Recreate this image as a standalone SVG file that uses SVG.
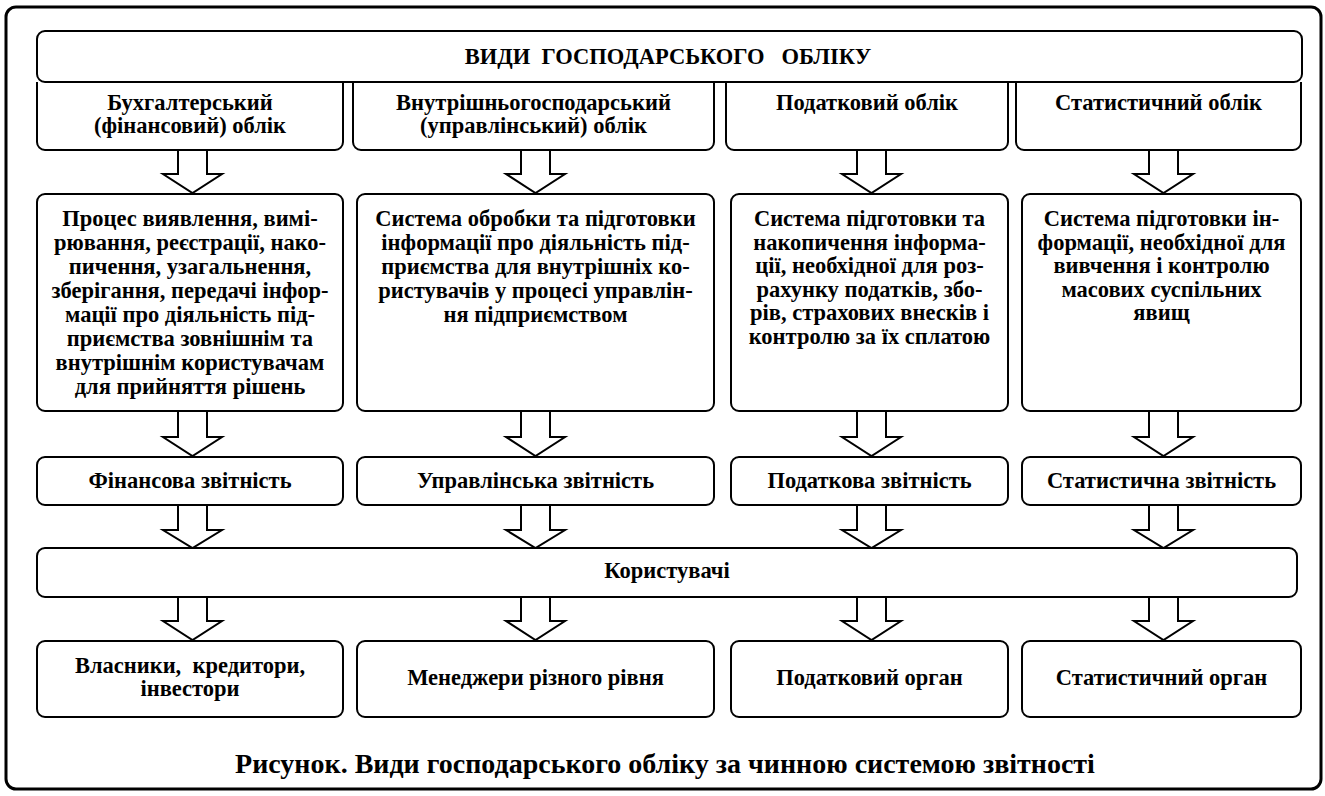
<svg xmlns="http://www.w3.org/2000/svg" width="1325" height="796" viewBox="0 0 1325 796">
<style>
text{font-family:"Liberation Serif","Times New Roman",serif;font-weight:bold;fill:#000;text-anchor:middle}
.t{font-size:22.5px}
.m{font-size:22.5px}
.cap{font-size:28px}
.box{fill:#fff;stroke:#000;stroke-width:2}
.arr{fill:#fff;stroke:#000;stroke-width:2;stroke-linejoin:miter}
</style>
<rect x="0" y="0" width="1325" height="796" fill="#fff"/>
<rect id="frame" x="6" y="7" width="1315" height="782" rx="10" fill="#fff" stroke="#000" stroke-width="3"/>

<g id="connectors">
  <polyline class="arr" points="178,150 178,174 163,174 192.5,193 222,174 207,174 207,150"/>
  <polyline class="arr" points="521,150 521,174 506,174 535.5,193 565,174 550,174 550,150"/>
  <polyline class="arr" points="857,150 857,174 842,174 871.5,193 901,174 886,174 886,150"/>
  <polyline class="arr" points="1149,150 1149,174 1134,174 1163.5,193 1193,174 1178,174 1178,150"/>

  <polyline class="arr" points="178,411 178,437 163,437 192.5,456 222,437 207,437 207,411"/>
  <polyline class="arr" points="521,411 521,437 506,437 535.5,456 565,437 550,437 550,411"/>
  <polyline class="arr" points="857,411 857,437 842,437 871.5,456 901,437 886,437 886,411"/>
  <polyline class="arr" points="1149,411 1149,437 1134,437 1163.5,456 1193,437 1178,437 1178,411"/>

  <polyline class="arr" points="178,505 178,530 163,530 192.5,548 222,530 207,530 207,505"/>
  <polyline class="arr" points="521,505 521,530 506,530 535.5,548 565,530 550,530 550,505"/>
  <polyline class="arr" points="857,505 857,530 842,530 871.5,548 901,530 886,530 886,505"/>
  <polyline class="arr" points="1149,505 1149,530 1134,530 1163.5,548 1193,530 1178,530 1178,505"/>

  <polyline class="arr" points="178,597 178,621 163,621 192.5,640 222,621 207,621 207,597"/>
  <polyline class="arr" points="521,597 521,621 506,621 535.5,640 565,621 550,621 550,597"/>
  <polyline class="arr" points="857,597 857,621 842,621 871.5,640 901,621 886,621 886,597"/>
  <polyline class="arr" points="1149,597 1149,621 1134,621 1163.5,640 1193,621 1178,621 1178,597"/>
</g>

<g id="h1"><path class="box" d="M37,82 V142 A8,8 0 0 0 45,150 H335 A8,8 0 0 0 343,142 V82"/>
<text class="t" x="190" y="110">Бухгалтерський</text><text class="t" x="190" y="133">(фінансовий) облік</text></g>
<g id="h2"><path class="box" d="M353,82 V142 A8,8 0 0 0 361,150 H706 A8,8 0 0 0 714,142 V82"/>
<text class="t" x="533.5" y="110">Внутрішньогосподарський</text><text class="t" x="533.5" y="133">(управлінський) облік</text></g>
<g id="h3"><path class="box" d="M726,82 V142 A8,8 0 0 0 734,150 H1000 A8,8 0 0 0 1008,142 V82"/>
<text class="t" x="867" y="110">Податковий облік</text></g>
<g id="h4"><path class="box" d="M1016,82 V142 A8,8 0 0 0 1024,150 H1293 A8,8 0 0 0 1301,142 V82"/>
<text class="t" x="1158.5" y="110">Статистичний облік</text></g>

<g id="top"><rect class="box" x="37" y="31" width="1265" height="51" rx="8"/>
<text class="t" x="668" y="64" xml:space="preserve">ВИДИ  ГОСПОДАРСЬКОГО   ОБЛІКУ</text></g>

<g id="m1"><rect class="box" x="37" y="194" width="306" height="217" rx="8"/>
<text class="m" x="190" y="226">Процес виявлення, вимі-</text>
<text class="m" x="190" y="250">рювання, реєстрації, нако-</text>
<text class="m" x="190" y="274">пичення, узагальнення,</text>
<text class="m" x="190" y="298">зберігання, передачі інфор-</text>
<text class="m" x="190" y="322">мації про діяльність під-</text>
<text class="m" x="190" y="346">приємства зовнішнім та</text>
<text class="m" x="190" y="370">внутрішнім користувачам</text>
<text class="m" x="190" y="394">для прийняття рішень</text></g>

<g id="m2"><rect class="box" x="357" y="194" width="357" height="217" rx="8"/>
<text class="m" x="535.5" y="226">Система обробки та підготовки</text>
<text class="m" x="535.5" y="250">інформації про діяльність під-</text>
<text class="m" x="535.5" y="274">приємства для внутрішніх ко-</text>
<text class="m" x="535.5" y="298">ристувачів у процесі управлін-</text>
<text class="m" x="535.5" y="322">ня підприємством</text></g>

<g id="m3"><rect class="box" x="731" y="194" width="277" height="217" rx="8"/>
<text class="m" x="869.5" y="226">Система підготовки та</text>
<text class="m" x="869.5" y="249.5">накопичення інформа-</text>
<text class="m" x="869.5" y="273">ції, необхідної для роз-</text>
<text class="m" x="869.5" y="296.5">рахунку податків, збо-</text>
<text class="m" x="869.5" y="320">рів, страхових внесків і</text>
<text class="m" x="869.5" y="343.5">контролю за їх сплатою</text></g>

<g id="m4"><rect class="box" x="1022" y="194" width="279" height="217" rx="8"/>
<text class="m" x="1161.5" y="226">Система підготовки ін-</text>
<text class="m" x="1161.5" y="249.5">формації, необхідної для</text>
<text class="m" x="1161.5" y="273">вивчення і контролю</text>
<text class="m" x="1161.5" y="296.5">масових суспільних</text>
<text class="m" x="1161.5" y="320">явищ</text></g>

<g id="r1"><rect class="box" x="37" y="457" width="306" height="48" rx="8"/><text class="t" x="190" y="488">Фінансова звітність</text></g>
<g id="r2"><rect class="box" x="357" y="457" width="357" height="48" rx="8"/><text class="t" x="535.5" y="488">Управлінська звітність</text></g>
<g id="r3"><rect class="box" x="731" y="457" width="277" height="48" rx="8"/><text class="t" x="869.5" y="488">Податкова звітність</text></g>
<g id="r4"><rect class="box" x="1022" y="457" width="279" height="48" rx="8"/><text class="t" x="1161.5" y="488">Статистична звітність</text></g>

<g id="users"><rect class="box" x="37" y="548" width="1260" height="49" rx="8"/><text class="t" x="667" y="578">Користувачі</text></g>

<g id="b1"><rect class="box" x="37" y="641" width="306" height="76" rx="8"/>
<text class="t" x="190" y="673" xml:space="preserve">Власники,  кредитори,</text><text class="t" x="190" y="696">інвестори</text></g>
<g id="b2"><rect class="box" x="357" y="641" width="357" height="76" rx="8"/><text class="t" x="535.5" y="685">Менеджери різного рівня</text></g>
<g id="b3"><rect class="box" x="731" y="641" width="277" height="76" rx="8"/><text class="t" x="869.5" y="685">Податковий орган</text></g>
<g id="b4"><rect class="box" x="1022" y="641" width="279" height="76" rx="8"/><text class="t" x="1161.5" y="685">Статистичний орган</text></g>

<text class="cap" x="665" y="773">Рисунок. Види господарського обліку за чинною системою звітності</text>
</svg>
